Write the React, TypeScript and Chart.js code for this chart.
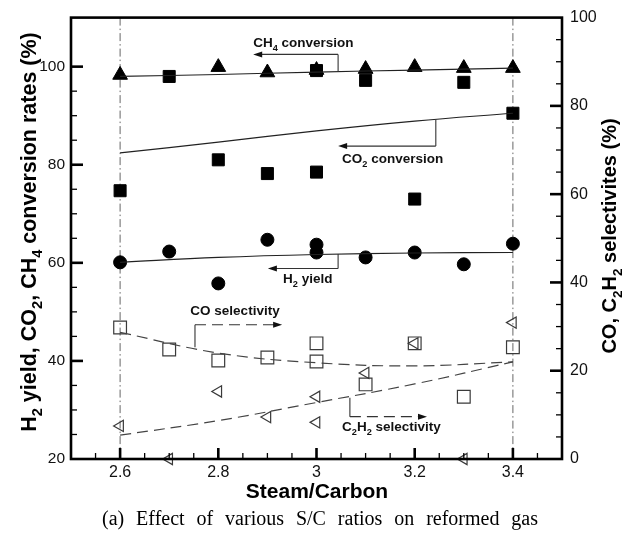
import React, { useEffect, useRef } from 'react';
import { Chart, registerables } from 'chart.js';

Chart.register(...registerables);

// ---- tick labels ----
const xTicks = [2.6, 2.8, 3.0, 3.2, 3.4];
const leftTicks = [20, 40, 60, 80, 100];
const rightTicks = [0, 20, 40, 60, 80, 100];
const refLinesX = [2.6, 3.4];

// ---- measured points ----
const ch4X = [2.6, 2.8, 2.9, 3.0, 3.1, 3.2, 3.3, 3.4];
const ch4Y = [98.3, 99.9, 98.8, 99.3, 99.5, 99.9, 99.7, 99.7];

const co2X = [2.6, 2.7, 2.8, 2.9, 3.0, 3.0, 3.1, 3.2, 3.3, 3.4];
const co2Y = [74.7, 98.0, 81.0, 78.2, 78.5, 99.2, 97.2, 73.0, 96.8, 90.5];

const h2X = [2.6, 2.7, 2.8, 2.9, 3.0, 3.0, 3.1, 3.2, 3.3, 3.4];
const h2Y = [60.1, 62.3, 55.8, 64.7, 63.7, 62.1, 61.1, 62.1, 59.7, 63.9];

const coSelX = [2.6, 2.7, 2.8, 2.9, 3.0, 3.0, 3.1, 3.2, 3.3, 3.4];
const coSelY = [29.8, 24.8, 22.3, 23.0, 26.2, 22.1, 16.9, 26.2, 14.1, 25.3];

const c2h2X = [2.6, 2.7, 2.8, 2.9, 3.0, 3.0, 3.1, 3.2, 3.3, 3.4];
const c2h2Y = [7.5, 0.0, 15.3, 9.5, 14.1, 8.3, 19.5, 26.2, 0.0, 30.9];

// ---- fitted trend lines ----
const fitX = [2.6, 2.8, 3.0, 3.2, 3.4];
const ch4Fit = [98.0, 98.4, 98.9, 99.3, 99.7];
const co2Fit = [82.4, 84.6, 86.9, 88.9, 90.5];
const h2Fit = [60.1, 61.1, 61.7, 62.0, 62.1];
const coFit = [28.7, 24.0, 21.8, 21.1, 22.0];
const c2h2Fit = [5.4, 8.7, 12.8, 17.0, 22.0];

// ---- annotation callouts (data units) ----
const annotations = [
  { axis: 'y', text: 'CH_4 conversion', tx: 2.871, ty: 104.9, align: 'left', path: [[3.044, 99.0], [3.044, 102.5], [2.871, 102.5]], dashed: false },
  { axis: 'y', text: 'CO_2 conversion', tx: 3.052, ty: 81.4, align: 'left', path: [[3.243, 89.2], [3.243, 83.8], [3.044, 83.8]], dashed: false },
  { axis: 'y', text: 'H_2 yield', tx: 2.932, ty: 56.8, align: 'left', path: [[3.044, 61.8], [3.044, 58.85], [2.901, 58.85]], dashed: false },
  { axis: 'y2', text: 'CO selectivity', tx: 2.834, ty: 33.8, align: 'center', path: [[2.7525, 25.3], [2.7525, 30.4], [2.93, 30.4]], dashed: true },
  { axis: 'y2', text: 'C_2H_2 selectivity', tx: 3.052, ty: 7.4, align: 'left', path: [[3.068, 13.9], [3.068, 9.6], [3.225, 9.6]], dashed: true },
];

const leftTitle = 'H_2 yield, CO_2, CH_4 conversion rates (%)';
const rightTitle = 'CO, C_2H_2 selectivites (%)';
const xTitle = 'Steam/Carbon';
const caption = '(a) Effect of various S/C ratios on reformed gas';

const SANS = "'Liberation Sans', Arial, Helvetica, sans-serif";
const SERIF = "'Liberation Serif', 'Times New Roman', serif";

type Part = { t: string; sub: boolean };
function parse(s: string): Part[] {
  const out: Part[] = [];
  let buf = '';
  for (let i = 0; i < s.length; i++) {
    if (s[i] === '_' && i + 1 < s.length) {
      if (buf) out.push({ t: buf, sub: false });
      buf = '';
      out.push({ t: s[i + 1], sub: true });
      i++;
    } else buf += s[i];
  }
  if (buf) out.push({ t: buf, sub: false });
  return out;
}

function drawRich(ctx: CanvasRenderingContext2D, s: string, x: number, y: number, size: number, align: string) {
  const parts = parse(s);
  const sub = size * 0.68;
  const fontOf = (p: Part) => `bold ${p.sub ? sub : size}px ${SANS}`;
  let total = 0;
  const ws = parts.map((p) => {
    ctx.font = fontOf(p);
    const w = ctx.measureText(p.t).width;
    total += w;
    return w;
  });
  let cx = align === 'center' ? x - total / 2 : x;
  const base = y + size * 0.36;
  ctx.textBaseline = 'alphabetic';
  ctx.textAlign = 'left';
  parts.forEach((p, i) => {
    ctx.font = fontOf(p);
    ctx.fillText(p.t, cx, p.sub ? base + size * 0.28 : base);
    cx += ws[i];
  });
}

function arrowHead(ctx: CanvasRenderingContext2D, fx: number, fy: number, tx: number, ty: number) {
  const ang = Math.atan2(ty - fy, tx - fx);
  const L = 9, W = 3;
  ctx.beginPath();
  ctx.moveTo(tx, ty);
  ctx.lineTo(tx - L * Math.cos(ang) + W * Math.sin(ang), ty - L * Math.sin(ang) - W * Math.cos(ang));
  ctx.lineTo(tx - L * Math.cos(ang) - W * Math.sin(ang), ty - L * Math.sin(ang) + W * Math.cos(ang));
  ctx.closePath();
  ctx.fill();
}

const decorPlugin = {
  id: 'decor',
  beforeDatasetsDraw(chart: any) {
    const ctx = chart.ctx as CanvasRenderingContext2D;
    const a = chart.chartArea;
    const X = chart.scales.x;
    ctx.save();
    ctx.strokeStyle = '#666';
    ctx.lineWidth = 1;
    ctx.setLineDash([8, 3, 1.5, 3]);
    refLinesX.forEach((v) => {
      const px = X.getPixelForValue(v);
      ctx.beginPath();
      ctx.moveTo(px, a.top);
      ctx.lineTo(px, a.bottom);
      ctx.stroke();
    });
    ctx.restore();
  },
  afterDraw(chart: any) {
    const ctx = chart.ctx as CanvasRenderingContext2D;
    const a = chart.chartArea;
    const X = chart.scales.x, Y = chart.scales.y, Y2 = chart.scales.y2;
    ctx.save();
    ctx.strokeStyle = '#000';
    ctx.fillStyle = '#000';
    // ticks x
    for (let i = 1; i < 20; i++) {
      const v = 2.5 + i * 0.05;
      const major = xTicks.some((t) => Math.abs(t - v) < 1e-6);
      const px = X.getPixelForValue(v);
      ctx.lineWidth = major ? 2.6 : 1.3;
      ctx.beginPath();
      ctx.moveTo(px, a.bottom);
      ctx.lineTo(px, a.bottom - (major ? 11 : 6));
      ctx.stroke();
    }
    // ticks left
    for (let v = 25; v <= 100; v += 5) {
      const major = leftTicks.includes(v);
      const py = Y.getPixelForValue(v);
      ctx.lineWidth = major ? 2.6 : 1.3;
      ctx.beginPath();
      ctx.moveTo(a.left, py);
      ctx.lineTo(a.left + (major ? 12 : 6), py);
      ctx.stroke();
    }
    // ticks right
    for (let v = 5; v <= 95; v += 5) {
      const major = rightTicks.includes(v);
      const py = Y2.getPixelForValue(v);
      ctx.lineWidth = major ? 2.6 : 1.3;
      ctx.beginPath();
      ctx.moveTo(a.right, py);
      ctx.lineTo(a.right - (major ? 12 : 6), py);
      ctx.stroke();
    }
    // frame
    ctx.lineWidth = 2.6;
    ctx.strokeRect(a.left, a.top, a.right - a.left, a.bottom - a.top);

    // annotations
    annotations.forEach((an) => {
      const S = an.axis === 'y' ? Y : Y2;
      const pts = an.path.map(([vx, vy]) => [X.getPixelForValue(vx), S.getPixelForValue(vy)]);
      ctx.strokeStyle = '#333';
      ctx.fillStyle = '#111';
      ctx.lineWidth = 1.1;
      ctx.setLineDash([]);
      ctx.beginPath();
      ctx.moveTo(pts[0][0], pts[0][1]);
      ctx.lineTo(pts[1][0], pts[1][1]);
      ctx.stroke();
      ctx.setLineDash(an.dashed ? [11, 6] : []);
      ctx.beginPath();
      ctx.moveTo(pts[1][0], pts[1][1]);
      ctx.lineTo(pts[2][0] + (pts[2][0] > pts[1][0] ? -6 : 6), pts[2][1]);
      ctx.stroke();
      ctx.setLineDash([]);
      arrowHead(ctx, pts[1][0], pts[1][1], pts[2][0], pts[2][1]);
      ctx.fillStyle = '#111';
      drawRich(ctx, an.text, X.getPixelForValue(an.tx), S.getPixelForValue(an.ty), 13.5, an.align);
    });

    // axis titles
    ctx.fillStyle = '#000';
    ctx.save();
    ctx.translate(28, 232);
    ctx.rotate(-Math.PI / 2);
    drawRich(ctx, leftTitle, 0, 0, 21.5, 'center');
    ctx.restore();
    ctx.save();
    ctx.translate(609, 236);
    ctx.rotate(-Math.PI / 2);
    drawRich(ctx, rightTitle, 0, 0, 20, 'center');
    ctx.restore();
    drawRich(ctx, xTitle, 317, 490, 21, 'center');

    // caption (justified)
    ctx.font = `20px ${SERIF}`;
    ctx.textBaseline = 'middle';
    ctx.textAlign = 'left';
    const words = caption.split(' ');
    const ws = words.map((w) => ctx.measureText(w).width);
    const L = 102, R = 538;
    const gap = (R - L - ws.reduce((s, w) => s + w, 0)) / (words.length - 1);
    let cx = L;
    words.forEach((w, i) => {
      ctx.fillText(w, cx, 520);
      cx += ws[i] + gap;
    });
    ctx.restore();
  },
};

const pts = (xs: number[], ys: number[]) => xs.map((x, i) => ({ x, y: ys[i] }));

export default function App() {
  const ref = useRef<HTMLCanvasElement | null>(null);
  useEffect(() => {
    if (!ref.current) return;
    const fitLine = (data: number[], yAxisID: string, dashed: boolean) => ({
      type: 'scatter' as const,
      data: pts(fitX, data),
      yAxisID,
      showLine: true,
      pointRadius: 0,
      borderColor: dashed ? '#444' : '#222',
      borderWidth: 1.2,
      borderDash: dashed ? [11, 6] : [],
      tension: 0.4,
      fill: false,
    });
    const marker = (xs: number[], ys: number[], yAxisID: string, style: string, r: number, filled: boolean, rot = 0) => ({
      type: 'scatter' as const,
      data: pts(xs, ys),
      yAxisID,
      showLine: false,
      clip: false,
      pointStyle: style,
      pointRadius: r,
      pointRotation: rot,
      pointBackgroundColor: filled ? '#000' : 'rgba(0,0,0,0)',
      pointBorderColor: filled ? '#000' : '#3a3a3a',
      pointBorderWidth: filled ? 1 : 1.2,
    });
    const chart = new Chart(ref.current, {
      type: 'scatter',
      data: {
        datasets: [
          fitLine(ch4Fit, 'y', false),
          fitLine(co2Fit, 'y', false),
          fitLine(h2Fit, 'y', false),
          fitLine(coFit, 'y2', true),
          fitLine(c2h2Fit, 'y2', true),
          marker(ch4X, ch4Y, 'y', 'triangle', 8.5, true),
          marker(co2X, co2Y, 'y', 'rect', 8.5, true),
          marker(h2X, h2Y, 'y', 'circle', 6.5, true),
          marker(coSelX, coSelY, 'y2', 'rect', 9, false),
          marker(c2h2X, c2h2Y, 'y2', 'triangle', 6.5, false, -90),
        ] as any,
      },
      options: {
        responsive: false,
        animation: false,
        devicePixelRatio: 1,
        layout: { padding: { top: 12, left: 0, right: 0, bottom: 0 } },
        plugins: { legend: { display: false }, tooltip: { enabled: false } },
        scales: {
          x: {
            type: 'linear',
            position: 'bottom',
            min: 2.5,
            max: 3.5,
            afterBuildTicks: (s: any) => { s.ticks = xTicks.map((v) => ({ value: v })); },
            afterFit: (s: any) => { s.height = 76; },
            grid: { display: false, drawTicks: false },
            border: { display: false },
            ticks: {
              autoSkip: false,
              maxRotation: 0,
              padding: 4,
              color: '#111',
              font: { family: SANS, size: 16 },
              callback: (v: any) => String(Number(Number(v).toFixed(1))),
            },
          },
          y: {
            type: 'linear',
            position: 'left',
            min: 20,
            max: 110,
            afterBuildTicks: (s: any) => { s.ticks = leftTicks.map((v) => ({ value: v })); },
            afterFit: (s: any) => { s.width = 71; },
            grid: { display: false, drawTicks: false },
            border: { display: false },
            ticks: { padding: 6, color: '#111', font: { family: SANS, size: 15.5 } },
          },
          y2: {
            type: 'linear',
            position: 'right',
            min: 0,
            max: 100,
            afterBuildTicks: (s: any) => { s.ticks = rightTicks.map((v) => ({ value: v })); },
            afterFit: (s: any) => { s.width = 71; },
            grid: { display: false, drawTicks: false },
            border: { display: false },
            ticks: { padding: 8, color: '#111', font: { family: SANS, size: 16 } },
          },
        },
      } as any,
      plugins: [decorPlugin],
    });
    return () => chart.destroy();
  }, []);
  return (
    <div style={{ position: 'absolute', left: 0, top: 0, width: 633, height: 535, background: '#fff' }}>
      <canvas ref={ref} width={633} height={535} />
    </div>
  );
}
